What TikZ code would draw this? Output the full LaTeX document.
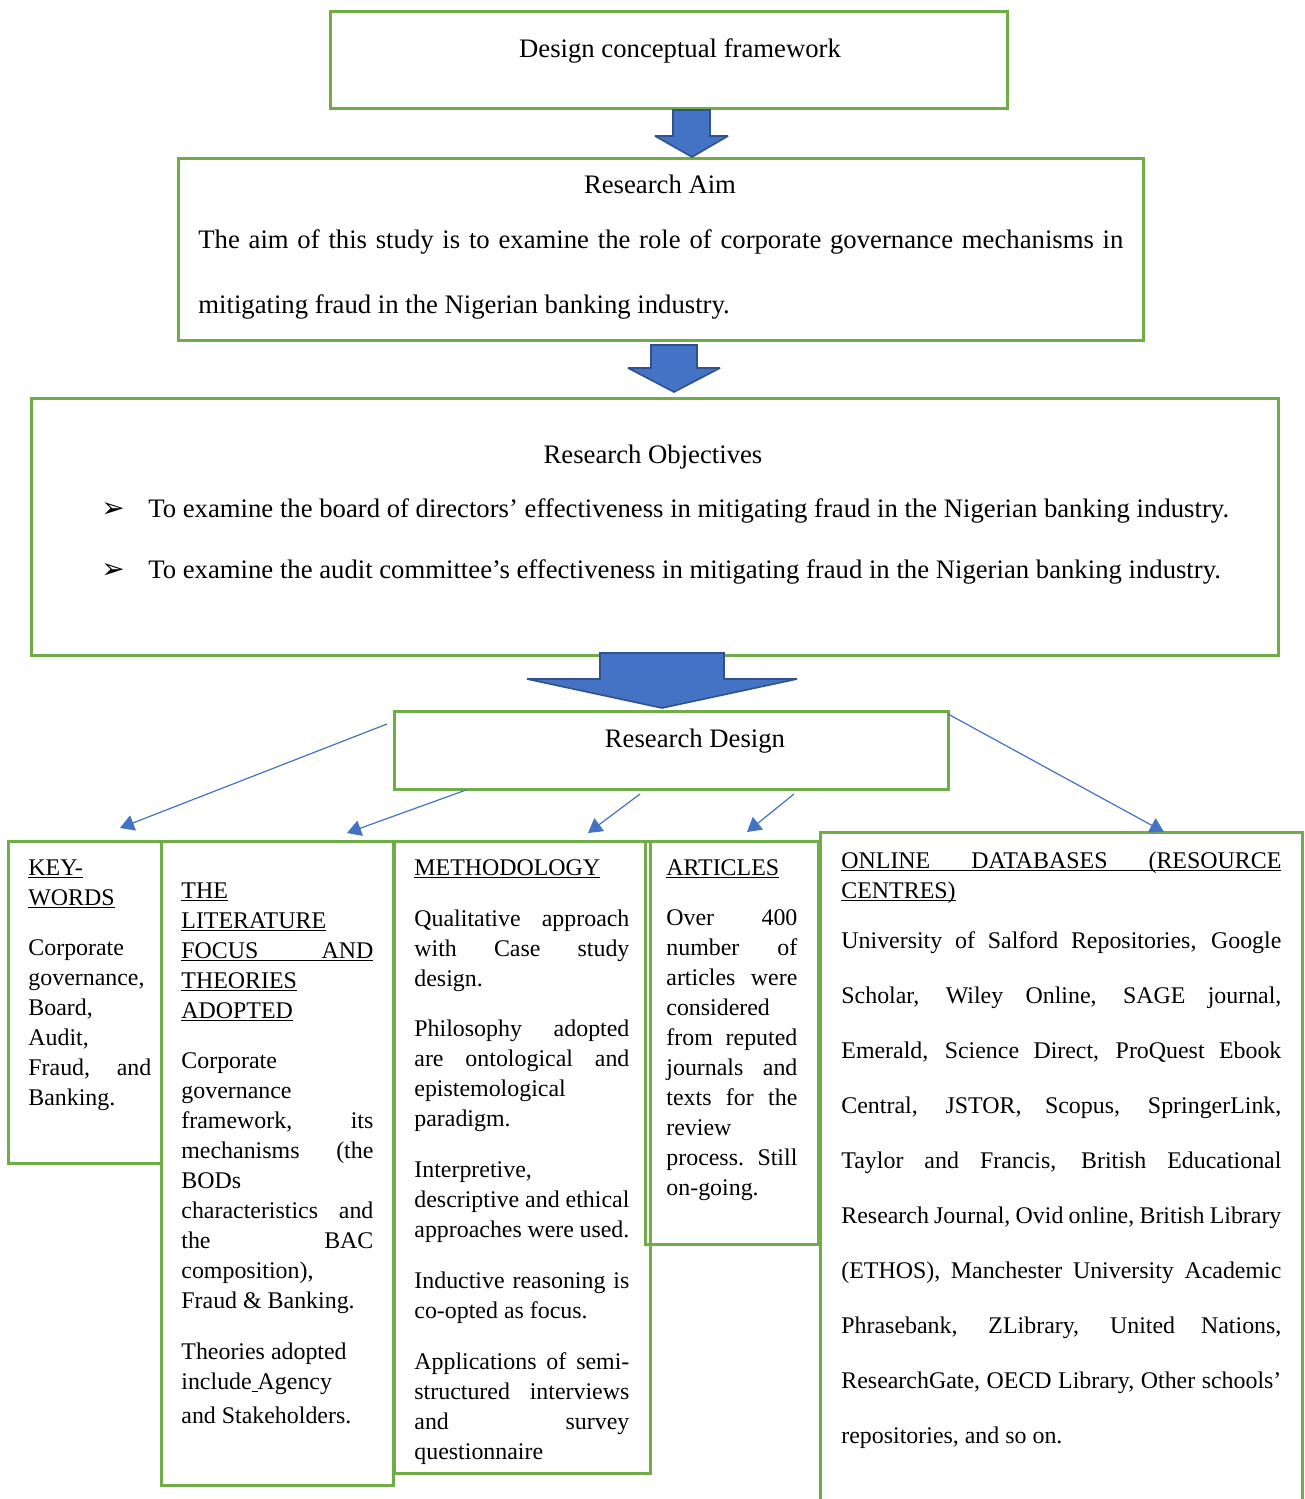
\documentclass[tikz,border=0pt]{standalone}
\usepackage{fontspec}
\setmainfont{Liberation Serif}
\newfontfamily\dejavu{DejaVu Sans}
\usetikzlibrary{arrows.meta,fit}
\definecolor{gr}{HTML}{70AD47}
\definecolor{bl}{HTML}{4472C4}
\definecolor{bld}{HTML}{2F528F}
\newcommand\J[1]{\leavevmode\makebox[\linewidth][s]{\spaceskip=0pt\xspaceskip=0pt\relax #1}}
\newsavebox\ulbox
\newcommand\ul[1]{\leavevmode\sbox\ulbox{#1}\rlap{\rule[-1.5pt]{\wd\ulbox}{0.6pt}}\usebox\ulbox}
\hbadness=10000 \hfuzz=6pt
\begin{document}
\begin{tikzpicture}[x=0.5pt,y=-0.5pt,
 gbox/.style={draw=gr, line width=1.5pt, inner sep=0pt},
 txt/.style={inner sep=0pt, font=\fontsize{13.35}{15}\selectfont},
 para/.style={txt, anchor=base west, align=left, text width=#1,
   execute at begin node={\spaceskip=0pt\xspaceskip=0pt\relax}},
 bpara/.style={inner sep=0pt, font=\fontsize{11.95}{15}\selectfont, anchor=base west,
   align=left, text width=#1, execute at begin node={\spaceskip=0pt\xspaceskip=0pt\relax}},
 blockarrow/.style={fill=bl, draw=bld, line width=0.8pt, line join=miter, miter limit=3},
 conn/.style={draw=bl, line width=0.6pt, -{Triangle[length=7pt,width=8pt]}}]
\useasboundingbox (0,0) rectangle (1305,1499);
\clip (0,0) rectangle (1305,1499);
\fill[white] (0,0) rectangle (1305,1499);

% boxes
\node[gbox, fit={(330,11) (1007,108)}] (dcf) {};
\node[gbox, fit={(178,158) (1143,340)}] (aim) {};
\node[gbox, fit={(31,398) (1278,655)}] (obj) {};
\node[gbox, fit={(394,711) (948,789)}] (rd) {};
\node[gbox, fit={(8,841) (161,1163)}] (kw) {};
\node[gbox, fit={(161,841) (393,1485)}] (lit) {};
\node[gbox, fit={(394,841) (650,1473)}] (meth) {};
\node[gbox, fit={(645,841) (818,1244)}] (art) {};
\node[gbox, fit={(820,832) (1302,1540)}] (onl) {};

% block arrows
\draw[blockarrow] (673,110) -- (710,110) -- (710,136) -- (728,136) -- (692,157)
  -- (655,136) -- (673,136) -- cycle;
\draw[blockarrow] (651,345) -- (697,345) -- (697,368) -- (720,368) -- (674,392)
  -- (628,368) -- (651,368) -- cycle;
\draw[blockarrow] (600,653) -- (724,653) -- (724,679) -- (797,679) -- (662,708)
  -- (527,679) -- (600,679) -- cycle;

% top texts
\node[txt, anchor=base] (tdcf) at (680,57) {Design conceptual framework};
\node[txt, anchor=base] (taimh) at (660,193) {Research Aim};
\node[para=462.5pt] (taim) at (198,248) {\J{The aim of this study is to examine the role of corporate governance mechanisms in}\\[17.5pt]
mitigating fraud in the Nigerian banking industry.};
\node[txt, anchor=base] (tobjh) at (653,463) {Research Objectives};
\node[txt, anchor=base west] (b1) at (101,517) {\dejavu\fontsize{14}{15}\selectfont ➢};
\node[txt, anchor=base west] (b2) at (101,578) {\dejavu\fontsize{14}{15}\selectfont ➢};
\node[txt, anchor=base west] (o1) at (148,517) {To examine the board of directors’ effectiveness in mitigating fraud in the Nigerian banking industry.};
\node[txt, anchor=base west] (o2) at (148,578) {To examine the audit committee’s effectiveness in mitigating fraud in the Nigerian banking industry.};
\node[txt, anchor=base] (trd) at (695,747) {Research Design};

% connectors
\coordinate (c1s) at (387,724); \coordinate (c1e) at (120,828);
\coordinate (c2s) at (466,790); \coordinate (c2e) at (347,833);
\coordinate (c3s) at (640,794); \coordinate (c3e) at (588,833);
\coordinate (c4s) at (794,794); \coordinate (c4e) at (747,832);
\coordinate (c5s) at (948,714); \coordinate (c5e) at (1164,832);
\draw[conn] (c1s) -- (c1e);
\draw[conn] (c2s) -- (c2e);
\draw[conn] (c3s) -- (c3e);
\draw[conn] (c4s) -- (c4e);
\draw[conn] (c5s) -- (c5e);

% bottom texts
\node[bpara=61.5pt] (tkw) at (28,875) {\ul{KEY-}\\
\ul{WORDS}\\[10pt]
Corporate\\
governance,\\
Board,\\
Audit,\\
\J{Fraud, and}\\
Banking.};

\node[bpara=96pt] (tlit) at (181,898) {\ul{THE}\\
\ul{LITERATURE}\\
\ul{\J{FOCUS AND}}\\
\ul{THEORIES}\\
\ul{ADOPTED}\\[10pt]
Corporate\\
governance\\
\J{framework, its}\\
\J{mechanisms (the}\\
BODs\\
\J{characteristics and}\\
\J{the BAC}\\
composition),\\
Fraud \& Banking.\\[10.5pt]
Theories adopted\\
include\ul{\ }Agency\\[2pt]
and Stakeholders.};

\node[bpara=107.5pt] (tmeth) at (414,875) {\ul{METHODOLOGY}\\[10.5pt]
\J{Qualitative approach}\\
\J{with Case study}\\
design.\\[10pt]
\J{Philosophy adopted}\\
\J{are ontological and}\\
epistemological\\
paradigm.\\[10.5pt]
Interpretive,\\
\J{descriptive and ethical}\\
approaches were used.\\[10.5pt]
\J{Inductive reasoning is}\\
co-opted as focus.\\[10.5pt]
\J{Applications of semi-}\\
\J{structured interviews}\\
\J{and survey}\\
questionnaire};

\node[bpara=65.5pt] (tart) at (666,875) {\ul{ARTICLES}\\[10pt]
\J{Over 400}\\
\J{number of}\\
\J{articles were}\\
considered\\
\J{from reputed}\\
\J{journals and}\\
\J{texts for the}\\
review\\
\J{process. Still}\\
on-going.};

\node[bpara=220pt] (tonl) at (841,868) {\ul{\J{ONLINE DATABASES (RESOURCE}}\\
\ul{CENTRES)}\\[10pt]
\J{University of Salford Repositories, Google}\\[12.5pt]
\J{Scholar, Wiley Online, SAGE journal,}\\[12.5pt]
\J{Emerald, Science Direct, ProQuest Ebook}\\[12.5pt]
\J{Central, JSTOR, Scopus, SpringerLink,}\\[12.5pt]
\J{Taylor and Francis, British Educational}\\[12.5pt]
\J{Research Journal, Ovid online, British Library}\\[12.5pt]
\J{(ETHOS), Manchester University Academic}\\[12.5pt]
\J{Phrasebank, ZLibrary, United Nations,}\\[12.5pt]
\J{ResearchGate, OECD Library, Other schools’}\\[12.5pt]
repositories, and so on.};
\end{tikzpicture}
\end{document}
